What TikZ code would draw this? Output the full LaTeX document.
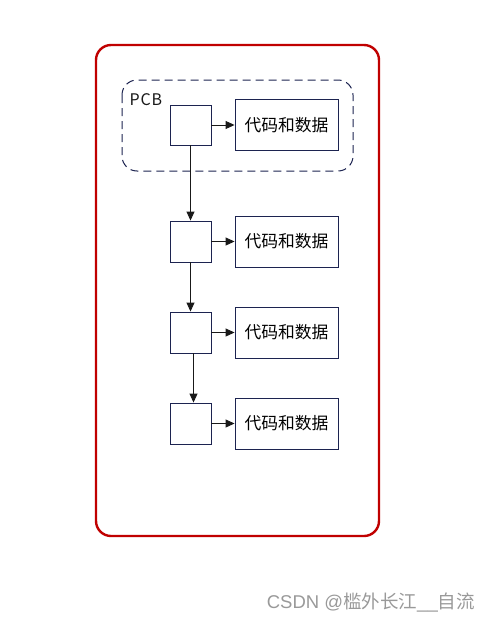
\documentclass[tikz,border=0pt]{standalone}
\usepackage{fontspec}
\setmainfont{Noto Sans CJK SC}
\newfontfamily\wmlatin{Liberation Sans}
\usetikzlibrary{arrows.meta}
\definecolor{navy}{HTML}{1C2350}
\definecolor{redline}{HTML}{C00000}
\tikzset{
  pcbbox/.style={draw=navy, line width=0.9pt, fill=white, minimum width=41pt, minimum height=40pt, inner sep=0pt},
  databox/.style={draw=navy, line width=0.9pt, fill=white, minimum width=103pt, minimum height=51pt, inner sep=0pt, font=\fontsize{16.8}{18}\selectfont},
  conn/.style={draw=black!90, line width=0.9pt, -{Triangle[length=9pt,width=8pt]}}
}
\begin{document}
\begin{tikzpicture}[x=1pt,y=-1pt]
\useasboundingbox (0,0) rectangle (490,621);
\draw[redline, line width=2.4pt, rounded corners=15pt] (96,45) rectangle (379,536);
\draw[navy, line width=1pt, dash pattern=on 8pt off 5pt, rounded corners=15pt] (122,80) rectangle (353,171);
\node[anchor=west, font=\fontsize{16}{18}\selectfont, text=black!90, inner sep=0pt] (pcb) at (129.5,100) {P\kern0.8pt C\kern0.8pt B};
\node[pcbbox] (p1) at (190.5,125) {};
\node[pcbbox, minimum height=41pt] (p2) at (190.5,241.5) {};
\node[pcbbox, minimum height=41pt] (p3) at (190.5,332.5) {};
\node[pcbbox, minimum height=41pt] (p4) at (190.5,423.5) {};
\node[databox] (d1) at (286.5,125) {代码和数据};
\node[databox] (d2) at (286.5,241.5) {代码和数据};
\node[databox] (d3) at (286.5,332.5) {代码和数据};
\node[databox] (d4) at (286.5,423.5) {代码和数据};
\draw[conn] (p1.east) -- (d1.west);
\draw[conn] (p2.east) -- (d2.west);
\draw[conn] (p3.east) -- (d3.west);
\draw[conn] (p4.east) -- (d4.west);
\draw[conn] (p1.south) -- (p2.north);
\draw[conn] (p2.south) -- (p3.north);
\draw[conn] ([xshift=3pt]p3.south) -- ([xshift=3pt]p4.north);
\node[anchor=east, font=\fontsize{18.5}{20}\selectfont, text=black!40, inner sep=0pt] (wm) at (475,603) {{\wmlatin CSDN @}槛外长江{\wmlatin \_\_}自流};
\end{tikzpicture}
\end{document}
